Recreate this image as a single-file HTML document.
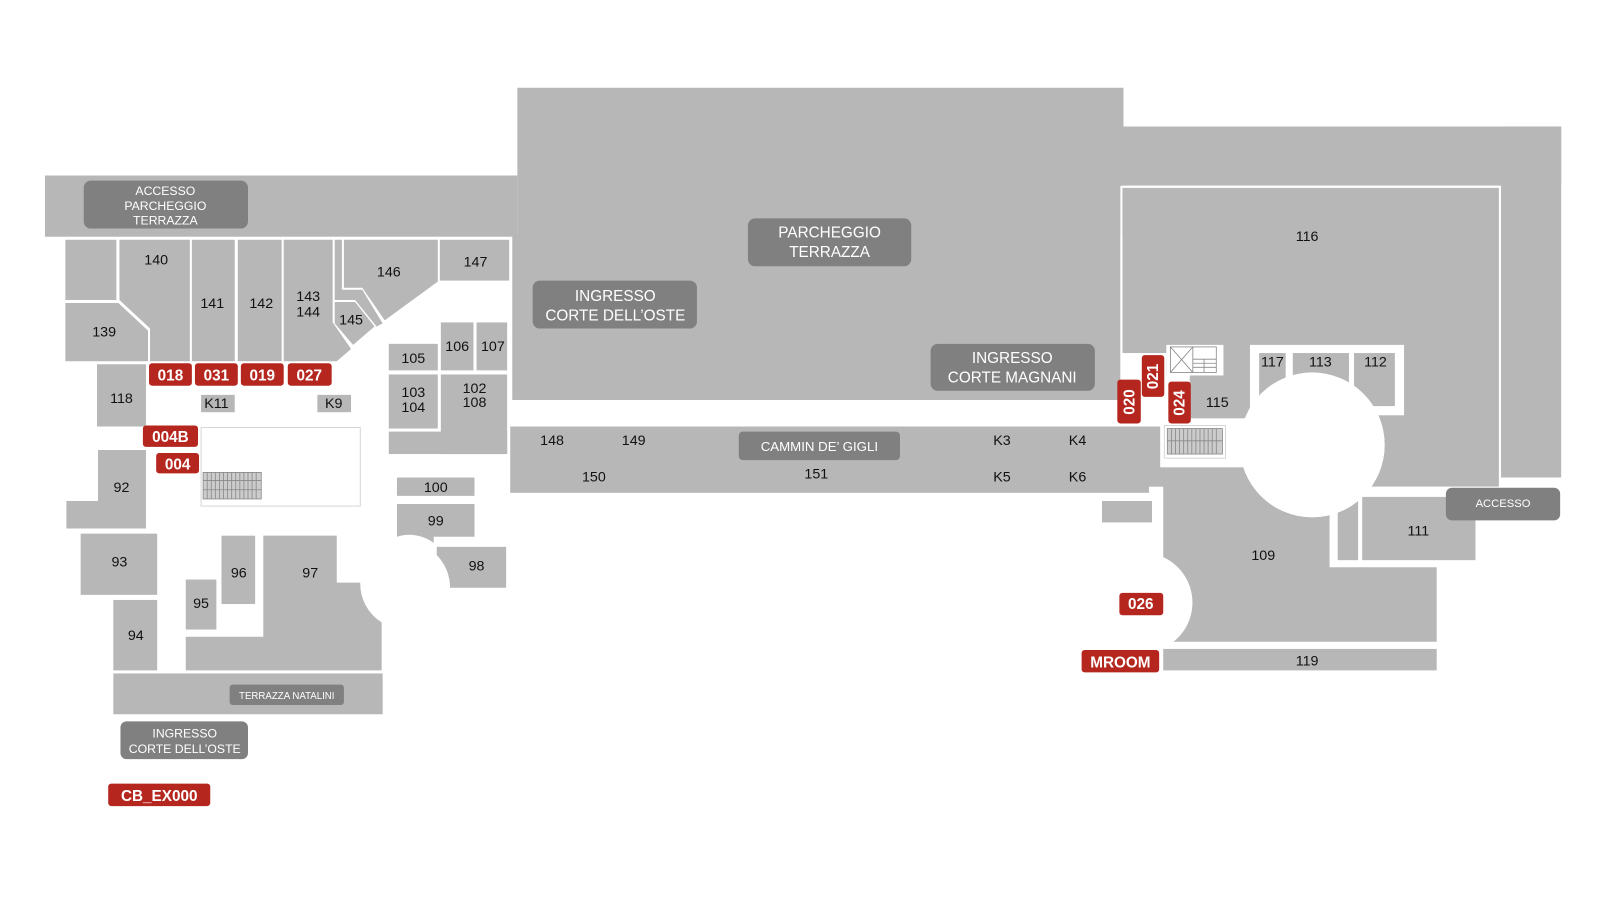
<!DOCTYPE html>
<html><head><meta charset="utf-8"><style>
html,body{margin:0;padding:0;background:#fff;}
svg{display:block}
.n{font-family:"Liberation Sans",sans-serif;font-size:14px;fill:#111;text-anchor:middle}
.l{font-family:"Liberation Sans",sans-serif;font-size:15px;fill:#fff;text-anchor:middle}
.r{font-family:"Liberation Sans",sans-serif;font-size:15px;fill:#fff;text-anchor:middle;font-weight:bold}
</style></head><body>
<svg width="1600" height="903" viewBox="0 0 1568 885" xmlns="http://www.w3.org/2000/svg">
<rect width="1568" height="885" fill="#fff"/>
<g fill="#b7b7b7">
<rect x="44" y="172" width="463" height="60"/>
<rect x="507" y="86" width="594" height="146"/>
<rect x="502" y="230" width="596" height="162"/>
<rect x="1098" y="124" width="432" height="58"/>
<rect x="1471" y="124" width="59" height="344"/>
<rect x="1100" y="184" width="369" height="293"/>
<rect x="500" y="418" width="626" height="65"/>
<rect x="1080" y="491" width="49" height="21"/>
<rect x="64" y="235" width="50" height="59"/>
<polygon points="64,297 116,297 145,324 145,354 64,354"/>
<polygon points="117,235 186,235 186,354 147,354 147,322 117,294"/>
<rect x="188" y="235" width="42" height="119"/>
<rect x="233" y="235" width="43" height="119"/>
<polygon points="278,235 326,235 326,316 344,342 330,354 278,354"/>
<polygon points="328,296 348,296 367,320 346,338 328,317"/>
<polygon points="328,235 335,235 335,284 355,284 375,317 369,320 348,294 328,294"/>
<polygon points="337,235 429,235 429,276 377,314 355,282 337,282"/>
<rect x="431" y="235" width="68" height="40"/>
<rect x="95" y="357" width="48" height="61"/>
<rect x="197" y="387" width="33" height="17"/>
<rect x="311" y="387" width="33" height="17"/>
<rect x="381" y="337" width="48" height="26"/>
<rect x="432" y="316" width="32" height="47"/>
<rect x="467" y="316" width="30" height="47"/>
<rect x="381" y="367" width="48" height="53"/>
<rect x="432" y="367" width="65" height="78"/>
<rect x="381" y="423" width="116" height="22"/>
<polygon points="96,441 143,441 143,518 65,518 65,491 96,491"/>
<rect x="79" y="523" width="75" height="60"/>
<rect x="111" y="588" width="43" height="69"/>
<rect x="182" y="568" width="30" height="49"/>
<rect x="217" y="525" width="33" height="67"/>
<path d="M258,525 H330 V571 H353 A45,45 0 0 0 374,610 V657 H182 V624 H258 Z"/>
<rect x="389" y="468" width="76" height="18"/>
<path d="M389,494 H465 V526 H425 V532 A40,40 0 0 0 389,526 Z"/>
<path d="M428,536 H496 V576 H441 A45,45 0 0 0 428,544 Z"/>
<rect x="111" y="660" width="264" height="40"/>
<path d="M1140,458 H1303 V556 H1408 V629 H1150 A49,49 0 0 0 1140,546 Z"/>
<rect x="1311" y="487" width="20" height="62"/>
<rect x="1335" y="487" width="111" height="62"/>
<rect x="1140" y="636" width="268" height="21"/>
</g>
<g fill="#fff">
<rect x="1098" y="346" width="45" height="72"/>
<rect x="1143" y="338" width="56" height="30"/>
<rect x="1225" y="338" width="151" height="69"/>
<rect x="1140" y="368" width="26" height="50"/>
<rect x="1137" y="410" width="90" height="48"/>
<circle cx="1286" cy="436" r="71"/>
<rect x="1303" y="477" width="170" height="9"/>
</g>
<g fill="#b7b7b7">
<rect x="1166" y="380" width="58" height="29"/>
<rect x="1234" y="346" width="26" height="50"/>
<rect x="1267" y="346" width="55" height="30"/>
<rect x="1327" y="346" width="40" height="52"/>
</g>
<circle cx="1286" cy="436" r="71" fill="#fff"/>
<path d="M1099,347 V183 H1470 V478" fill="none" stroke="#fff" stroke-width="2"/>
<g fill="none" stroke="#888" stroke-width="0.8">
<rect x="1141" y="417" width="60" height="32" stroke="#ccc" fill="#fff"/>
<rect x="1144" y="420" width="54" height="25" fill="#ccc"/>
<path d="M1144,432 H1198 M1148,420 V445 M1152,420 V445 M1156,420 V445 M1160,420 V445 M1164,420 V445 M1168,420 V445 M1172,420 V445 M1176,420 V445 M1180,420 V445 M1184,420 V445 M1188,420 V445 M1192,420 V445"/>
<rect x="1147" y="340" width="45" height="25" fill="#fff"/>
<path d="M1147,340 L1169,365 M1169,340 L1147,365 M1169,340 V365 M1169,352 H1192 M1169,356 H1192 M1169,360 H1192 M1180,352 V365"/>
<rect x="197" y="419" width="156" height="77" stroke="#ccc" fill="#fff"/>
<rect x="199" y="463" width="57" height="26" fill="#ccc"/>
<path d="M199,471 H256 M199,480 H256 M203,463 V489 M207,463 V489 M211,463 V489 M215,463 V489 M219,463 V489 M223,463 V489 M227,463 V489 M231,463 V489 M235,463 V489 M239,463 V489 M243,463 V489 M247,463 V489 M251,463 V489"/>
</g>
<g fill="#808080">
<rect x="82" y="177" width="161" height="47" rx="7"/>
<rect x="733" y="214" width="160" height="47" rx="7"/>
<rect x="522" y="275" width="161" height="47" rx="7"/>
<rect x="912" y="337" width="161" height="46" rx="7"/>
<rect x="724" y="423" width="158" height="28" rx="4"/>
<rect x="1417" y="478" width="112" height="32" rx="6"/>
<rect x="225" y="671" width="112" height="20" rx="3"/>
<rect x="118" y="707" width="125" height="37" rx="6"/>
</g>
<g class="l">
<text x="162" y="191" style="font-size:12px">ACCESSO</text>
<text x="162" y="206" style="font-size:12px">PARCHEGGIO</text>
<text x="162" y="220" style="font-size:12px">TERRAZZA</text>
<text x="813" y="233">PARCHEGGIO</text>
<text x="813" y="252">TERRAZZA</text>
<text x="603" y="295">INGRESSO</text>
<text x="603" y="314">CORTE DELL’OSTE</text>
<text x="992" y="356">INGRESSO</text>
<text x="992" y="375">CORTE MAGNANI</text>
<text x="803" y="442" style="font-size:13px">CAMMIN DE’ GIGLI</text>
<text x="1473" y="497" style="font-size:11px">ACCESSO</text>
<text x="281" y="685" style="font-size:9.5px">TERRAZZA NATALINI</text>
<text x="181" y="723" style="font-size:12px">INGRESSO</text>
<text x="181" y="738" style="font-size:12px">CORTE DELL’OSTE</text>
</g>
<g fill="#b5261e">
<rect x="146" y="356" width="42" height="22" rx="3"/>
<rect x="191" y="356" width="42" height="22" rx="3"/>
<rect x="236" y="356" width="42" height="22" rx="3"/>
<rect x="282" y="356" width="43" height="22" rx="3"/>
<rect x="140" y="417" width="54" height="21" rx="3"/>
<rect x="153" y="444" width="42" height="20" rx="3"/>
<rect x="1095" y="372" width="23" height="43" rx="3"/>
<rect x="1119" y="348" width="22" height="41" rx="3"/>
<rect x="1145" y="374" width="22" height="41" rx="3"/>
<rect x="1097" y="581" width="43" height="22" rx="3"/>
<rect x="1060" y="637" width="76" height="22" rx="3"/>
<rect x="106" y="768" width="100" height="22" rx="3"/>
</g>
<g class="r">
<text x="167" y="373">018</text>
<text x="212" y="373">031</text>
<text x="257" y="373">019</text>
<text x="303" y="373">027</text>
<text x="167" y="433">004B</text>
<text x="174" y="460">004</text>
<text x="1118" y="597">026</text>
<text x="1098" y="654">MROOM</text>
<text x="156" y="785">CB_EX000</text>
<text transform="translate(1112,394) rotate(-90)">020</text>
<text transform="translate(1135,369) rotate(-90)">021</text>
<text transform="translate(1161,395) rotate(-90)">024</text>
</g>
<g class="n">
<text x="153" y="259">140</text>
<text x="102" y="330">139</text>
<text x="208" y="302">141</text>
<text x="256" y="302">142</text>
<text x="302" y="295">143</text>
<text x="302" y="310">144</text>
<text x="344" y="318">145</text>
<text x="381" y="271">146</text>
<text x="466" y="261">147</text>
<text x="119" y="395">118</text>
<text x="212" y="400">K11</text>
<text x="327" y="400">K9</text>
<text x="405" y="356">105</text>
<text x="448" y="344">106</text>
<text x="483" y="344">107</text>
<text x="405" y="389">103</text>
<text x="405" y="404">104</text>
<text x="465" y="385">102</text>
<text x="465" y="399">108</text>
<text x="119" y="482">92</text>
<text x="117" y="555">93</text>
<text x="133" y="627">94</text>
<text x="197" y="596">95</text>
<text x="234" y="566">96</text>
<text x="304" y="566">97</text>
<text x="427" y="482">100</text>
<text x="427" y="515">99</text>
<text x="467" y="559">98</text>
<text x="541" y="436">148</text>
<text x="621" y="436">149</text>
<text x="582" y="472">150</text>
<text x="800" y="469">151</text>
<text x="982" y="436">K3</text>
<text x="1056" y="436">K4</text>
<text x="982" y="472">K5</text>
<text x="1056" y="472">K6</text>
<text x="1281" y="236">116</text>
<text x="1247" y="359">117</text>
<text x="1294" y="359">113</text>
<text x="1348" y="359">112</text>
<text x="1193" y="399">115</text>
<text x="1238" y="549">109</text>
<text x="1390" y="525">111</text>
<text x="1281" y="652">119</text>
</g>
</svg>
</body></html>
